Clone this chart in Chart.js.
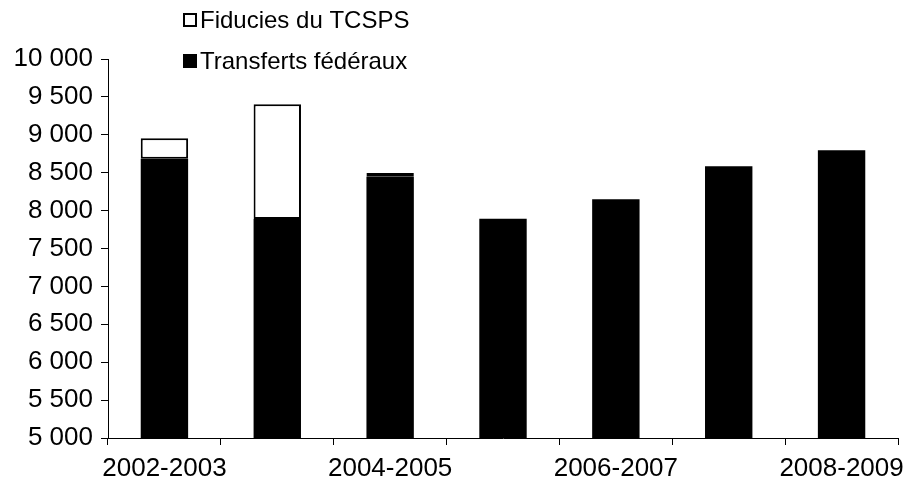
<!DOCTYPE html>
<html>
<head>
<meta charset="utf-8">
<script src="https://cdn.jsdelivr.net/npm/chart.js@4"></script>
<style>
  html, body { margin: 0; padding: 0; background: #fff; }
  #wrap { width: 910px; height: 484px; }
</style>
</head>
<body>
<div id="wrap"><canvas id="transfertsChart" width="910" height="484"></canvas></div>
<script>
// Exercices financiers
const years = ["2002-2003", "2003-2004", "2004-2005", "2005-2006", "2006-2007", "2007-2008", "2008-2009"];

// Millions de dollars
const transferts = [8685, 7890, 8445, 7893, 8149, 8584, 8795];
const fiducies = [269, 1512, 50, 0, 0, 0, 0];

const yTicks = [5000, 5500, 6000, 6500, 7000, 7500, 8000, 8500, 9000, 9500, 10000];

const FONT = "'Liberation Sans', Arial, sans-serif";
const AXIS_SIZE = 26;
const LEGEND_SIZE = 24;

const fmt = (v) => String(v).replace(/\B(?=(\d{3})+(?!\d))/g, " ");

// Vertical legend in the top-left corner
const sideLegend = {
  id: "sideLegend",
  afterDraw(chart) {
    const ctx = chart.ctx;
    const items = [
      { label: chart.data.datasets[1].label, fill: "#fff" },
      { label: chart.data.datasets[0].label, fill: "#000" },
    ];
    ctx.save();
    ctx.font = LEGEND_SIZE + "px " + FONT;
    ctx.textBaseline = "middle";
    items.forEach((it, i) => {
      const cy = 20 + i * 41;
      ctx.fillStyle = it.fill;
      ctx.fillRect(183, cy - 7, 14, 14);
      ctx.strokeStyle = "#000";
      ctx.lineWidth = 2;
      ctx.strokeRect(184, cy - 6, 12, 12);
      ctx.fillStyle = "#000";
      ctx.fillText(it.label, 200, cy + 1);
    });
    ctx.restore();
  },
};

new Chart(document.getElementById("transfertsChart"), {
  type: "bar",
  data: {
    labels: years,
    datasets: [
      {
        label: "Transferts fédéraux",
        data: transferts,
        backgroundColor: "#000",
        borderColor: "#000",
        borderWidth: 0,
        barPercentage: 0.42,
        categoryPercentage: 1,
      },
      {
        label: "Fiducies du TCSPS",
        data: fiducies,
        backgroundColor: "#fff",
        borderColor: "#000",
        borderWidth: 2,
        borderSkipped: false,
        barPercentage: 0.42,
        categoryPercentage: 1,
      },
    ],
  },
  options: {
    responsive: false,
    animation: false,
    layout: { padding: { top: 59, right: 12, left: 0, bottom: 0 } },
    plugins: {
      legend: { display: false },
      tooltip: { enabled: false },
    },
    scales: {
      x: {
        stacked: true,
        offset: true,
        afterFit: (s) => { s.height = 46; s.paddingRight = 0; },
        border: { color: "#000", width: 1 },
        grid: { offset: true, drawOnChartArea: false, tickLength: 7, color: "#000" },
        ticks: {
          autoSkip: false,
          maxRotation: 0,
          padding: 8,
          color: "#000",
          font: { family: FONT, size: AXIS_SIZE },
          callback: (v, i) => (i % 2 === 0 ? years[i] : ""),
        },
      },
      y: {
        stacked: true,
        min: yTicks[0],
        max: yTicks[yTicks.length - 1],
        afterFit: (s) => { s.width = 108; },
        afterBuildTicks: (s) => { s.ticks = yTicks.map((v) => ({ value: v })); },
        border: { color: "#000", width: 1 },
        grid: { drawOnChartArea: false, tickLength: 7, color: "#000" },
        ticks: {
          padding: 8,
          color: "#000",
          font: { family: FONT, size: AXIS_SIZE },
          callback: (v) => fmt(v),
        },
      },
    },
  },
  plugins: [sideLegend],
});
</script>
</body>
</html>
